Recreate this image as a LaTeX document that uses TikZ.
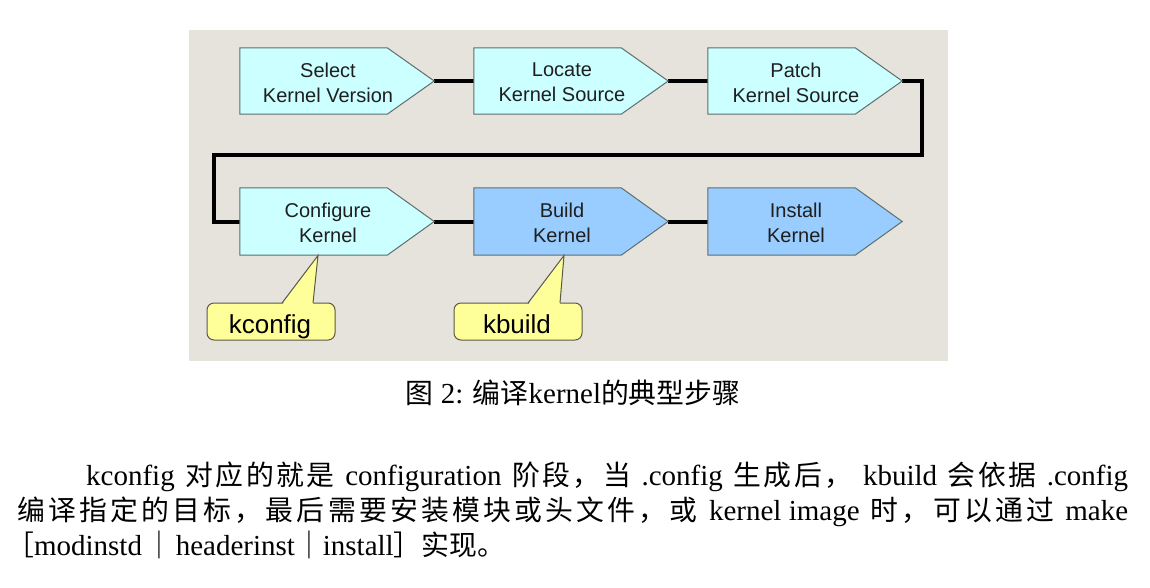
\documentclass[tikz,border=0pt]{standalone}
\usepackage{fontspec}
\setmainfont{Liberation Serif}
\newfontfamily\cjk[Scale=0.96]{Noto Sans CJK SC}
\newfontfamily\arial{Liberation Sans}
\usetikzlibrary{calc}
\definecolor{bgbeige}{RGB}{229,227,219}
\definecolor{cyanfill}{RGB}{204,255,255}
\definecolor{bluefill}{RGB}{153,204,255}
\definecolor{edgegray}{RGB}{95,110,110}
\definecolor{calloutfill}{RGB}{255,255,153}
\definecolor{calloutedge}{RGB}{90,90,70}
\newcommand\gapS{\hskip 8pt plus 1fil}
\newcommand\gapJ{\hskip 0pt plus 1fil}
\tikzset{
  stepbox/.style={minimum width=194pt, minimum height=66pt, inner sep=0pt, draw=none},
  steptext/.style={inner sep=0pt, align=center, text=black!88, font=\arial\fontsize{20}{25}\selectfont},
  link/.style={line width=4pt, black},
  callbody/.style={minimum width=128pt, minimum height=37pt, inner sep=0pt, rounded corners=7pt, fill=calloutfill, draw=calloutedge, line width=1pt},
  calltext/.style={inner sep=0pt, anchor=base, font=\arial\fontsize{26}{30}\selectfont},
  bodytext/.style={inner sep=0pt, anchor=base west, font=\fontsize{29}{35}\selectfont},
}
\newcommand\pent[2]{%
  \filldraw[fill=#2, draw=edgegray, line width=1pt]
    (#1.north west) -- ($(#1.north east)+(-47pt,0pt)$) -- (#1.east)
    -- ($(#1.south east)+(-47pt,0pt)$) -- (#1.south west) -- cycle;}
\begin{document}
\begin{tikzpicture}[x=1pt,y=-1pt]
\useasboundingbox (0,0) rectangle (1150,587);
\fill[white] (0,0) rectangle (1150,587);
\fill[bgbeige] (189,30) rectangle (948,361);

% step boxes (shape carriers)
\node[stepbox] (b1) at (337,81) {};
\node[stepbox] (b2) at (571,81) {};
\node[stepbox] (b3) at (805,81) {};
\node[stepbox, minimum height=67pt] (b4) at (337,221.5) {};
\node[stepbox, minimum height=67pt] (b5) at (571,221.5) {};
\node[stepbox, minimum height=67pt] (b6) at (805,221.5) {};

% connectors
\coordinate (r) at (922,155);
\coordinate (l) at (214,155);
\draw[link] (b1.east) -- (b2.west);
\draw[link] (b2.east) -- (b3.west);
\draw[link] (b3.east) -| (r) -- (l) |- (b4.west);
\draw[link] (b4.east) -- (b5.west);
\draw[link] (b5.east) -- (b6.west);

% shapes
\pent{b1}{cyanfill}
\pent{b2}{cyanfill}
\pent{b3}{cyanfill}
\pent{b4}{cyanfill}
\pent{b5}{bluefill}
\pent{b6}{bluefill}

% texts
\node[steptext] (t1) at ([xshift=-9pt,yshift=-1.5pt]b1.center) {Select\\Kernel Version};
\node[steptext] (t2) at ([xshift=-9pt,yshift=-1.5pt]b2.center) {Locate\\Kernel Source};
\node[steptext] (t3) at ([xshift=-9pt,yshift=-1.5pt]b3.center) {Patch\\Kernel Source};
\node[steptext] (t4) at ([xshift=-9pt,yshift=-1.5pt]b4.center) {Configure\\Kernel};
\node[steptext] (t5) at ([xshift=-9pt,yshift=-1.5pt]b5.center) {Build\\Kernel};
\node[steptext] (t6) at ([xshift=-9pt,yshift=-1.5pt]b6.center) {Install\\Kernel};

% callouts
\node[callbody] (c1) at (271,321.5) {};
\node[callbody] (c2) at (518,321.5) {};
\fill[calloutfill] (282,305) -- (318,255.5) -- (313,305) -- cycle;
\draw[calloutedge, line width=1pt] (282,303) -- (318,255.5) -- (313,303);
\fill[calloutfill] (528,305) -- (564,255.5) -- (560,305) -- cycle;
\draw[calloutedge, line width=1pt] (528,303) -- (564,255.5) -- (560,303);
\node[calltext] (k1) at (270,333) {kconfig};
\node[calltext] (k2) at (517,333) {kbuild};

% caption
\node[inner sep=0pt, anchor=base, font=\fontsize{29}{35}\selectfont] (cap) at (573,403)
  {{\cjk 图} 2: {\cjk 编译}kernel{\cjk 的典型步骤}};

% paragraph
\node[bodytext] (p1) at (86,485) {\hbox to 1042pt{kconfig\gapS{\cjk 对\gapJ 应\gapJ 的\gapJ 就\gapJ 是}\gapS configuration\gapS{\cjk 阶\gapJ 段\gapJ ，\gapJ 当}\gapS .config\gapS{\cjk 生\gapJ 成\gapJ 后\gapJ ，}\gapS kbuild\gapS{\cjk 会\gapJ 依\gapJ 据}\gapS .config}};
\node[bodytext] (p2) at (17,520) {\hbox to 1111pt{{\cjk 编\gapJ 译\gapJ 指\gapJ 定\gapJ 的\gapJ 目\gapJ 标\gapJ ，\gapJ 最\gapJ 后\gapJ 需\gapJ 要\gapJ 安\gapJ 装\gapJ 模\gapJ 块\gapJ 或\gapJ 头\gapJ 文\gapJ 件\gapJ ，\gapJ 或}\gapS kernel image\gapS{\cjk 时\gapJ ，\gapJ 可\gapJ 以\gapJ 通\gapJ 过}\gapS make}};
\node[bodytext] (p3) at (6,555) {{\cjk ［}modinstd\hskip4pt{\cjk ｜}\hskip2pt headerinst{\cjk ｜}install{\cjk ］实现。}};
\end{tikzpicture}
\end{document}
